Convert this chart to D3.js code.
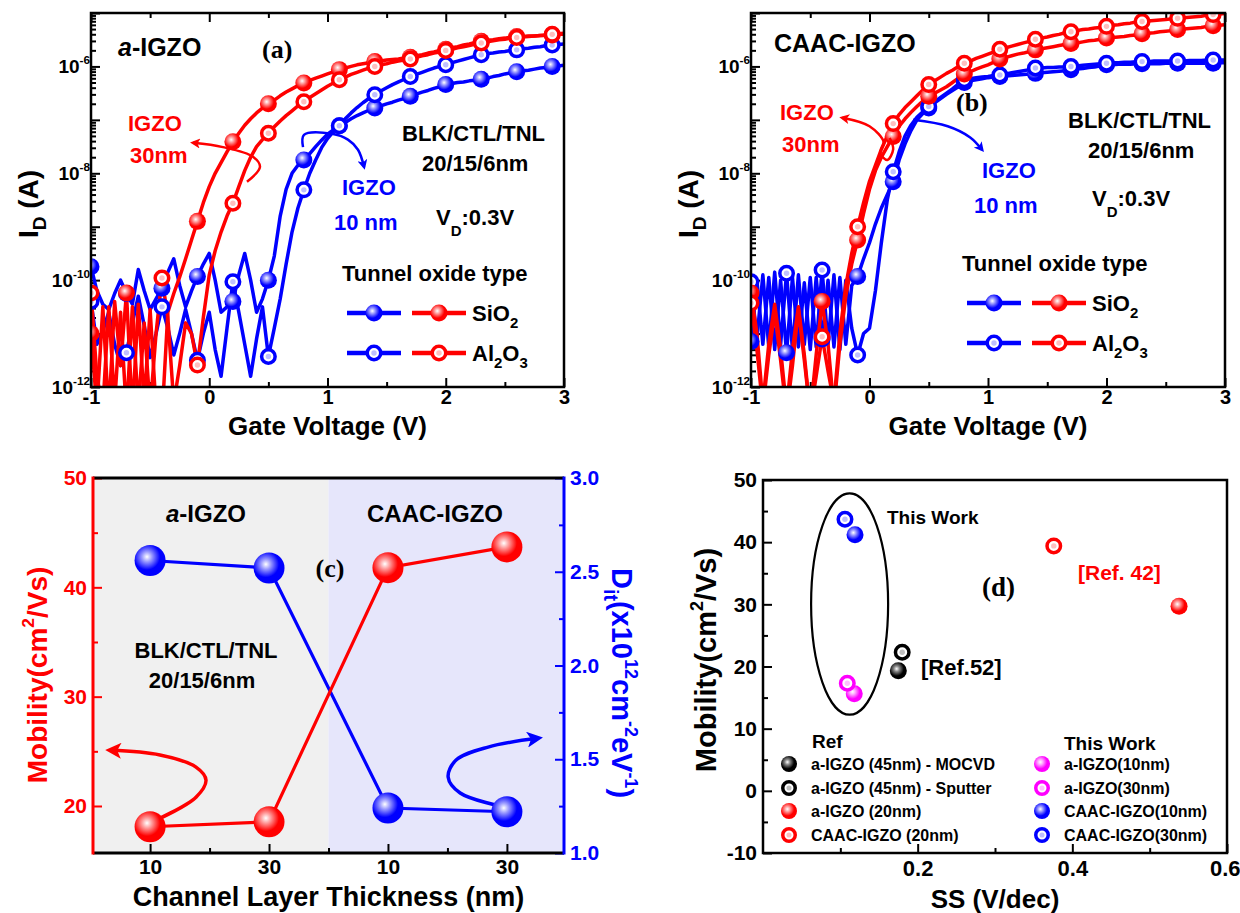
<!DOCTYPE html>
<html>
<head>
<meta charset="utf-8">
<title>IGZO charge-trap transistors: transfer curves, mobility and D_it</title>
<script src="https://cdn.jsdelivr.net/npm/d3@7"></script>
<style>
  html, body { margin: 0; padding: 0; background: #fff; }
  svg { display: block; }
</style>
</head>
<body>
<svg id="fig" width="1240" height="913" viewBox="0 0 1240 913"></svg>
<script>
// ------------------------------------------------------------------
// Data
// ------------------------------------------------------------------
// Gate sweep used by every transfer curve (V), symbols every 0.3 V
const gateVoltage = d3.range(81).map(i => Math.round((-1 + i * 0.05) * 100) / 100);

// log10 of drain current (A) at V_D = 0.3 V
// (a) amorphous IGZO
const aIGZO10_SiO2 = [
  -9.75,-10.2,-10.45,-10.55,-10.25,-10.0,
  -10.25,-10.45,-9.8,-10.2,-10.55,-10.35,
  -10.15,-9.85,-9.6,-10.1,-10.5,-10.2,
  -9.93,-9.7,-9.5,-10.0,-10.6,-10.5,
  -10.4,-9.9,-9.5,-10.0,-10.6,-10.35,
  -10.0,-9.55,-8.8,-8.3,-8.0,-7.85,
  -7.75,-7.63,-7.5,-7.38,-7.27,-7.19,
  -7.11,-7.05,-6.98,-6.92,-6.87,-6.82,
  -6.78,-6.74,-6.70,-6.67,-6.63,-6.60,
  -6.56,-6.52,-6.48,-6.45,-6.41,-6.38,
  -6.34,-6.32,-6.30,-6.29,-6.27,-6.26,
  -6.24,-6.22,-6.19,-6.17,-6.14,-6.12,
  -6.10,-6.08,-6.07,-6.05,-6.03,-6.02,
  -6.00,-5.99,-5.98];
const aIGZO10_Al2O3 = [
  -10.4,-11.2,-10.95,-10.6,-11.2,-11.6,
  -11.36,-10.8,-10.3,-10.85,-11.45,-11.0,
  -10.5,-10.9,-11.4,-11.0,-10.55,-11.0,
  -11.5,-11.0,-10.6,-11.3,-11.8,-10.9,
  -10.03,-10.6,-11.2,-11.8,-11.1,-10.5,
  -11.43,-10.9,-10.35,-9.7,-9.1,-8.65,
  -8.31,-8.0,-7.75,-7.52,-7.35,-7.22,
  -7.11,-6.98,-6.87,-6.77,-6.68,-6.60,
  -6.53,-6.46,-6.40,-6.34,-6.29,-6.24,
  -6.19,-6.15,-6.11,-6.07,-6.03,-6.00,
  -5.97,-5.93,-5.90,-5.87,-5.84,-5.81,
  -5.78,-5.76,-5.75,-5.73,-5.72,-5.70,
  -5.69,-5.67,-5.66,-5.64,-5.63,-5.61,
  -5.60,-5.59,-5.58];
const aIGZO30_SiO2 = [
  -11.0,-12.4,-10.5,-12.5,-10.4,-11.6,
  -10.24,-12.5,-10.45,-12.3,-10.55,-12.4,
  -12.6,-10.6,-10.25,-9.94,-9.6,-9.25,
  -8.9,-8.55,-8.25,-8.0,-7.8,-7.6,
  -7.41,-7.25,-7.1,-6.98,-6.87,-6.78,
  -6.70,-6.63,-6.55,-6.48,-6.42,-6.36,
  -6.31,-6.26,-6.22,-6.18,-6.14,-6.10,
  -6.06,-6.03,-6.00,-5.97,-5.95,-5.93,
  -5.91,-5.90,-5.88,-5.87,-5.86,-5.84,
  -5.83,-5.80,-5.78,-5.75,-5.73,-5.70,
  -5.68,-5.65,-5.63,-5.60,-5.58,-5.55,
  -5.53,-5.51,-5.50,-5.48,-5.47,-5.45,
  -5.44,-5.44,-5.43,-5.43,-5.42,-5.42,
  -5.41,-5.40,-5.40];
const aIGZO30_Al2O3 = [
  -10.24,-11.8,-12.4,-10.5,-12.3,-10.6,
  -12.5,-10.5,-12.4,-10.8,-12.4,-11.0,
  -9.96,-10.7,-12.3,-11.6,-10.8,-11.0,
  -11.59,-10.7,-9.9,-9.45,-9.1,-8.8,
  -8.56,-8.25,-7.95,-7.7,-7.5,-7.37,
  -7.25,-7.13,-7.02,-6.92,-6.83,-6.74,
  -6.66,-6.58,-6.51,-6.44,-6.37,-6.31,
  -6.25,-6.20,-6.15,-6.11,-6.07,-6.03,
  -6.00,-5.97,-5.95,-5.92,-5.90,-5.88,
  -5.86,-5.83,-5.80,-5.78,-5.75,-5.73,
  -5.70,-5.68,-5.65,-5.63,-5.61,-5.58,
  -5.56,-5.54,-5.52,-5.50,-5.49,-5.47,
  -5.46,-5.45,-5.44,-5.43,-5.42,-5.41,
  -5.40,-5.39,-5.38];

// (b) CAAC-IGZO
const caac10_SiO2 = [
  -11.15,-10.0,-11.2,-9.95,-11.3,-10.0,
  -11.36,-9.95,-11.25,-10.05,-11.3,-9.95,
  -11.1,-10.0,-11.25,-9.95,-11.2,-10.1,
  -9.93,-9.6,-9.3,-8.95,-8.65,-8.4,
  -8.16,-7.75,-7.45,-7.2,-7.0,-6.88,
  -6.78,-6.68,-6.60,-6.52,-6.45,-6.38,
  -6.30,-6.27,-6.25,-6.23,-6.21,-6.20,
  -6.19,-6.18,-6.17,-6.16,-6.15,-6.14,
  -6.13,-6.12,-6.11,-6.10,-6.09,-6.08,
  -6.06,-6.05,-6.04,-6.02,-6.01,-5.99,
  -5.97,-5.97,-5.96,-5.96,-5.96,-5.95,
  -5.95,-5.95,-5.95,-5.95,-5.94,-5.94,
  -5.94,-5.94,-5.94,-5.94,-5.94,-5.94,
  -5.94,-5.93,-5.93];
const caac10_Al2O3 = [
  -10.03,-11.1,-9.9,-11.25,-9.85,-11.2,
  -9.87,-11.3,-9.9,-11.2,-9.95,-11.25,
  -9.81,-11.2,-9.9,-11.3,-10.0,-10.9,
  -11.4,-11.0,-10.9,-10.2,-9.3,-8.5,
  -7.97,-7.6,-7.3,-7.1,-6.95,-6.85,
  -6.75,-6.66,-6.58,-6.50,-6.42,-6.33,
  -6.25,-6.23,-6.21,-6.20,-6.19,-6.17,
  -6.16,-6.14,-6.12,-6.10,-6.08,-6.06,
  -6.03,-6.03,-6.02,-6.02,-6.01,-6.01,
  -6.00,-5.99,-5.98,-5.97,-5.96,-5.95,
  -5.94,-5.93,-5.93,-5.92,-5.92,-5.91,
  -5.91,-5.91,-5.90,-5.90,-5.90,-5.90,
  -5.90,-5.90,-5.89,-5.89,-5.89,-5.88,
  -5.88,-5.88,-5.88];
const caac30_SiO2 = [
  -10.24,-11.0,-12.3,-11.2,-10.45,-11.3,
  -12.4,-11.3,-10.5,-11.4,-12.5,-11.4,
  -10.40,-11.2,-12.4,-11.2,-10.3,-9.7,
  -9.25,-8.75,-8.3,-7.95,-7.7,-7.5,
  -7.31,-7.12,-6.98,-6.86,-6.75,-6.65,
  -6.56,-6.50,-6.44,-6.38,-6.30,-6.22,
  -6.14,-6.10,-6.05,-6.01,-5.97,-5.92,
  -5.86,-5.83,-5.80,-5.77,-5.75,-5.72,
  -5.69,-5.67,-5.65,-5.63,-5.61,-5.59,
  -5.57,-5.56,-5.54,-5.52,-5.51,-5.49,
  -5.47,-5.46,-5.45,-5.44,-5.42,-5.41,
  -5.39,-5.38,-5.37,-5.35,-5.34,-5.33,
  -5.31,-5.30,-5.29,-5.28,-5.27,-5.25,
  -5.24,-5.23,-5.22];
const caac30_Al2O3 = [
  -10.43,-11.3,-12.4,-11.4,-10.6,-11.5,
  -12.5,-11.6,-10.55,-11.5,-12.5,-11.8,
  -11.06,-11.7,-12.3,-11.0,-10.1,-9.5,
  -9.0,-8.55,-8.15,-7.85,-7.55,-7.3,
  -7.07,-6.90,-6.77,-6.66,-6.55,-6.44,
  -6.34,-6.27,-6.20,-6.13,-6.07,-6.00,
  -5.94,-5.90,-5.85,-5.81,-5.77,-5.73,
  -5.68,-5.65,-5.62,-5.59,-5.56,-5.53,
  -5.49,-5.47,-5.45,-5.42,-5.40,-5.37,
  -5.35,-5.33,-5.31,-5.30,-5.28,-5.27,
  -5.25,-5.23,-5.22,-5.20,-5.19,-5.17,
  -5.16,-5.15,-5.14,-5.13,-5.12,-5.11,
  -5.10,-5.09,-5.08,-5.07,-5.06,-5.04,
  -5.03,-5.02,-5.01];

const gateTicks = [-1, 0, 1, 2, 3];
const gateMinorTicks = [-0.5, 0.5, 1.5, 2.5];
const decadeLabels = [-12, -10, -8, -6];

// (c) mobility and interface trap density per channel layer
const channelLayers = ["a-IGZO 10 nm", "a-IGZO 30 nm", "CAAC-IGZO 10 nm", "CAAC-IGZO 30 nm"];
const thicknessLabels = ["10", "30", "10", "30"];
const mobilityByLayer = [18.1, 18.55, 41.8, 43.7];   // cm^2/Vs
const ditByLayer = [2.56, 2.52, 1.24, 1.22];         // x10^12 cm^-2 eV^-1
const mobilityTicksC = [20, 30, 40, 50];
const ditTicks = [1.0, 1.5, 2.0, 2.5, 3.0];

// (d) benchmark: SS vs mobility
const benchNames = ["a-IGZO (45nm) - MOCVD", "a-IGZO (45nm) - Sputter", "a-IGZO (20nm)", "CAAC-IGZO (20nm)",
                    "a-IGZO(10nm)", "a-IGZO(30nm)", "CAAC-IGZO(10nm)", "CAAC-IGZO(30nm)"];
const benchSS = [0.175, 0.180, 0.538, 0.376, 0.118, 0.109, 0.119, 0.106];
const benchMobility = [19.3, 22.3, 29.7, 39.4, 15.6, 17.3, 41.2, 43.7];
const ssTicks = [0.2, 0.4, 0.6];
const ssMinorTicks = [0.1, 0.3, 0.5];
const mobilityTicksD = [-10, 0, 10, 20, 30, 40, 50];

// ------------------------------------------------------------------
// Drawing helpers
// ------------------------------------------------------------------
const FONT = "'Liberation Sans', Arial, Helvetica, sans-serif";
const SERIF = "'Liberation Serif', 'Times New Roman', serif";
const RED = "#ff0000", BLUE = "#0000ff", MAGENTA = "#ff00ff", BLACK = "#000000";

const svg = d3.select("#fig");
const defs = svg.append("defs");

function ballGradient(id, color, light) {
  const g = defs.append("radialGradient").attr("id", id)
    .attr("cx", "40%").attr("cy", "38%").attr("r", "62%");
  g.append("stop").attr("offset", "0%").attr("stop-color", "#ffffff");
  g.append("stop").attr("offset", "26%").attr("stop-color", light);
  g.append("stop").attr("offset", "68%").attr("stop-color", color);
  g.append("stop").attr("offset", "100%").attr("stop-color", color);
}
ballGradient("ball-red", RED, "#ff9c9c");
ballGradient("ball-blue", BLUE, "#9a9aff");
ballGradient("ball-black", BLACK, "#8a8a8a");
ballGradient("ball-magenta", MAGENTA, "#ffa8ff");
const gradOf = { [RED]: "ball-red", [BLUE]: "ball-blue", [BLACK]: "ball-black", [MAGENTA]: "ball-magenta" };

function arrowMarker(id, color, len, wid) {
  defs.append("marker").attr("id", id).attr("viewBox", "0 0 10 10")
    .attr("refX", 7).attr("refY", 5).attr("markerUnits", "userSpaceOnUse")
    .attr("markerWidth", len).attr("markerHeight", wid).attr("orient", "auto")
    .append("path").attr("d", "M0,0 L10,5 L0,10 L2.5,5 Z").attr("fill", color);
}
arrowMarker("arr-red-s", RED, 12, 10);
arrowMarker("arr-blue-s", BLUE, 12, 10);
arrowMarker("arr-red-l", RED, 22, 16);
arrowMarker("arr-blue-l", BLUE, 22, 16);

function symbol(g, cx, cy, r, color, filled) {
  if (filled) {
    g.append("circle").attr("cx", cx).attr("cy", cy).attr("r", r)
      .attr("fill", `url(#${gradOf[color]})`);
  } else {
    g.append("circle").attr("cx", cx).attr("cy", cy).attr("r", r - 1.75)
      .attr("fill", "#ffffff").attr("stroke", color).attr("stroke-width", 3.5);
    g.append("circle").attr("cx", cx).attr("cy", cy).attr("r", r * 0.32)
      .attr("fill", color).attr("opacity", 0.25);
  }
}

// text with sub/superscript and italic runs
function rich(g, x, y, parts, o = {}) {
  const fs = o.size || 20;
  const t = g.append("text").attr("x", x).attr("y", y)
    .attr("font-family", o.family || FONT).attr("font-weight", o.weight || "bold")
    .attr("font-size", fs).attr("fill", o.fill || BLACK)
    .attr("text-anchor", o.anchor || "start").style("white-space", "pre");
  if (o.rotate) t.attr("transform", `rotate(${o.rotate},${x},${y})`);
  let cur = 0;
  parts.forEach(p => {
    const [str, kind = "", extra] = Array.isArray(p) ? p : [p];
    let off = 0, scale = 1;
    if (kind === "sup") { off = -(extra ?? 0.42) * fs; scale = 0.62; }
    if (kind === "sub") { off = (extra ?? 0.25) * fs; scale = 0.68; }
    const s = t.append("tspan").attr("dy", off - cur).text(str);
    if (scale !== 1) s.attr("font-size", fs * scale);
    if (kind === "it") s.attr("font-style", "italic");
    cur = off;
  });
  return t;
}

function styleAxis(sel, color, size) {
  sel.select(".domain").remove();
  sel.selectAll(".tick line").attr("stroke", color).attr("stroke-width", 2);
  sel.selectAll(".tick text").attr("fill", color).attr("font-size", size)
    .attr("font-weight", "bold").attr("font-family", FONT);
  return sel;
}

// ------------------------------------------------------------------
// (a), (b) transfer characteristics
// ------------------------------------------------------------------
function transferPanel(P) {
  const g = svg.append("g");
  const x = d3.scaleLinear([-1, 3], [P.left, P.right]);
  const y = d3.scaleLog([1e-12, 1e-5], [P.bottom, P.top]);

  defs.append("clipPath").attr("id", P.id + "-clip").append("rect")
    .attr("x", P.left).attr("y", P.top)
    .attr("width", P.right - P.left).attr("height", P.bottom - P.top);

  // ticks (inward)
  const decades = d3.range(-12, -4).map(e => Math.pow(10, e));
  const minors = [];
  d3.range(-12, -5).forEach(e => { for (let k = 2; k < 10; k++) minors.push(k * Math.pow(10, e)); });
  styleAxis(g.append("g").attr("transform", `translate(${P.left},0)`)
    .call(d3.axisLeft(y).tickValues(decades).tickSize(-9).tickFormat("")), BLACK, 18);
  styleAxis(g.append("g").attr("transform", `translate(${P.left},0)`)
    .call(d3.axisLeft(y).tickValues(minors).tickSize(-5).tickFormat("")), BLACK, 18);
  styleAxis(g.append("g").attr("transform", `translate(0,${P.bottom})`)
    .call(d3.axisBottom(x).tickValues(gateTicks).tickSize(-9).tickPadding(3).tickFormat(d => String(d))), BLACK, 20);
  styleAxis(g.append("g").attr("transform", `translate(0,${P.bottom})`)
    .call(d3.axisBottom(x).tickValues(gateMinorTicks).tickSize(-5).tickFormat("")), BLACK, 20);
  styleAxis(g.append("g").attr("transform", `translate(0,${P.top})`)
    .call(d3.axisTop(x).tickValues(gateTicks).tickSize(-9).tickFormat("")), BLACK, 20);
  styleAxis(g.append("g").attr("transform", `translate(0,${P.top})`)
    .call(d3.axisTop(x).tickValues(gateMinorTicks).tickSize(-5).tickFormat("")), BLACK, 20);

  decadeLabels.forEach(e => {
    rich(g, P.left - 1, y(Math.pow(10, e)) + 7, ["10", [String(e), "sup", 0.5]], { size: 19, anchor: "end" });
  });

  // curves
  const cg = g.append("g").attr("clip-path", `url(#${P.id}-clip)`);
  const line = d3.line().x((d, i) => x(gateVoltage[i])).y(d => y(Math.pow(10, d)));
  P.curves.forEach(c => {
    cg.append("path").attr("d", line(c.values)).attr("fill", "none")
      .attr("stroke", c.color).attr("stroke-width", 3.5).attr("stroke-linejoin", "round");
  });
  P.curves.forEach(c => {
    c.values.forEach((v, i) => {
      if (i % 6 === 0) symbol(cg, x(gateVoltage[i]), y(Math.pow(10, v)), 8.5, c.color, c.filled);
    });
  });

  // curved arrows tying each thickness to its label
  const aline = d3.line().curve(d3.curveCatmullRom.alpha(0.5))
    .x(d => x(d[0])).y(d => y(Math.pow(10, d[1])));
  P.arrows.forEach(a => {
    g.append("path").attr("d", aline(a.pts)).attr("fill", "none")
      .attr("stroke", a.color).attr("stroke-width", 2.5)
      .attr("marker-end", `url(#${a.color === RED ? "arr-red-s" : "arr-blue-s"})`);
  });

  // frame
  g.append("rect").attr("x", P.left).attr("y", P.top)
    .attr("width", P.right - P.left).attr("height", P.bottom - P.top)
    .attr("fill", "none").attr("stroke", BLACK).attr("stroke-width", 2.5);

  // axis titles
  rich(g, (P.left + P.right) / 2, P.bottom + 48, ["Gate Voltage (V)"], { size: 26, anchor: "middle" });
  rich(g, P.left - 53, (P.top + P.bottom) / 2 + 4, ["I", ["D", "sub", 0.3], " (A)"], { size: 28, anchor: "middle", rotate: -90 });

  // annotations
  const T = P.text;
  rich(g, T.title[0], T.title[1], T.titleParts, { size: 25 });
  rich(g, T.tag[0], T.tag[1], [T.tagText], { size: 26, family: SERIF });
  rich(g, T.red[0], T.red[1], ["IGZO"], { size: 22, fill: RED });
  rich(g, T.red[0] + 2, T.red[1] + 32, ["30nm"], { size: 22, fill: RED });
  rich(g, T.blue[0], T.blue[1], ["IGZO"], { size: 22, fill: BLUE });
  rich(g, T.blue[0] - 8, T.blue[1] + 35, ["10 nm"], { size: 22, fill: BLUE });
  rich(g, T.stack[0], T.stack[1], ["BLK/CTL/TNL"], { size: 22 });
  rich(g, T.stack[0] + 20, T.stack[1] + 30, ["20/15/6nm"], { size: 22 });
  rich(g, T.vd[0], T.vd[1], ["V", ["D", "sub", 0.5], ":0.3V"], { size: 22 });

  // legend
  const L = P.legend;
  rich(g, L.x, L.y, ["Tunnel oxide type"], { size: 22 });
  [[true, ["SiO", ["2", "sub", 0.32]]], [false, ["Al", ["2", "sub", 0.32], "O", ["3", "sub", 0.32]]]]
    .forEach(([filled, label], k) => {
      const yy = L.y + 32 + k * 40;
      [[BLUE, 5], [RED, 70]].forEach(([col, dx]) => {
        g.append("line").attr("x1", L.x + dx).attr("x2", L.x + dx + 54)
          .attr("y1", yy).attr("y2", yy).attr("stroke", col).attr("stroke-width", 4.5);
        symbol(g, L.x + dx + 27, yy, 8.5, col, filled);
      });
      rich(g, L.x + 130, yy + 8, label, { size: 22 });
    });
}

transferPanel({
  id: "pa", left: 91, right: 564, top: 13, bottom: 387,
  curves: [
    { values: aIGZO10_SiO2, color: BLUE, filled: true },
    { values: aIGZO10_Al2O3, color: BLUE, filled: false },
    { values: aIGZO30_SiO2, color: RED, filled: true },
    { values: aIGZO30_Al2O3, color: RED, filled: false }
  ],
  arrows: [
    { color: RED, pts: [[0.319, -8.16], [0.429, -7.88], [0.370, -7.69], [0.116, -7.51], [-0.137, -7.43]] },
    { color: BLUE, pts: [[0.793, -7.51], [0.801, -7.28], [1.038, -7.26], [1.173, -7.37], [1.258, -7.56], [1.309, -7.88]] }
  ],
  text: {
    title: [118, 56], titleParts: [["a", "it"], "-IGZO"],
    tag: [262, 58], tagText: "(a)",
    red: [128, 131], blue: [342, 195], stack: [402, 141], vd: [436, 225]
  },
  legend: { x: 342, y: 281 }
});

transferPanel({
  id: "pb", left: 751, right: 1225, top: 13, bottom: 387,
  curves: [
    { values: caac10_SiO2, color: BLUE, filled: true },
    { values: caac10_Al2O3, color: BLUE, filled: false },
    { values: caac30_SiO2, color: RED, filled: true },
    { values: caac30_Al2O3, color: RED, filled: false }
  ],
  arrows: [
    { color: RED, pts: [[0.17, -7.34], [0.2, -7.55], [0.15, -7.75], [0.09, -7.62], [0.12, -7.42], [0.0, -7.12], [-0.23, -6.96]] },
    { color: BLUE, pts: [[0.368, -7.0], [0.66, -7.12], [0.85, -7.33], [0.95, -7.56]] }
  ],
  text: {
    title: [774, 52], titleParts: ["CAAC-IGZO"],
    tag: [956, 111], tagText: "(b)",
    red: [780, 120], blue: [982, 178], stack: [1068, 128], vd: [1092, 206]
  },
  legend: { x: 962, y: 271 }
});

// ------------------------------------------------------------------
// (c) mobility and D_it vs channel layer
// ------------------------------------------------------------------
(function layerPanel() {
  const L = 93, R = 564, T = 478, B = 853;
  const g = svg.append("g");
  const x = d3.scaleLinear([-0.48, 3.48], [L, R]);
  const yMu = d3.scaleLinear([15.7, 50], [B, T]);
  const yDit = d3.scaleLinear([1, 3], [B, T]);

  g.append("rect").attr("x", L).attr("y", T).attr("width", x(1.5) - L).attr("height", B - T).attr("fill", "#f0f0f0");
  g.append("rect").attr("x", x(1.5)).attr("y", T).attr("width", R - x(1.5)).attr("height", B - T).attr("fill", "#e6e6fb");

  styleAxis(g.append("g").attr("transform", `translate(${L},0)`)
    .call(d3.axisLeft(yMu).tickValues(mobilityTicksC).tickSize(-9).tickPadding(6).tickFormat(d => String(d))), RED, 21);
  styleAxis(g.append("g").attr("transform", `translate(${L},0)`)
    .call(d3.axisLeft(yMu).tickValues([25, 35, 45]).tickSize(-5).tickFormat("")), RED, 21);
  styleAxis(g.append("g").attr("transform", `translate(${R},0)`)
    .call(d3.axisRight(yDit).tickValues(ditTicks).tickSize(-9).tickPadding(6).tickFormat(d3.format(".1f"))), BLUE, 21);
  styleAxis(g.append("g").attr("transform", `translate(${R},0)`)
    .call(d3.axisRight(yDit).tickValues([1.25, 1.75, 2.25, 2.75]).tickSize(-5).tickFormat("")), BLUE, 21);
  styleAxis(g.append("g").attr("transform", `translate(0,${B})`)
    .call(d3.axisBottom(x).tickValues([0, 1, 2, 3]).tickSize(-9).tickPadding(6).tickFormat(i => thicknessLabels[i])), BLACK, 21);
  styleAxis(g.append("g").attr("transform", `translate(0,${B})`)
    .call(d3.axisBottom(x).tickValues([0.5, 1.5, 2.5]).tickSize(-5).tickFormat("")), BLACK, 21);

  const idx = channelLayers.map((_, i) => i);
  const lineMu = d3.line().x(i => x(i)).y(i => yMu(mobilityByLayer[i]));
  const lineDit = d3.line().x(i => x(i)).y(i => yDit(ditByLayer[i]));
  g.append("path").attr("d", lineDit(idx)).attr("fill", "none").attr("stroke", BLUE).attr("stroke-width", 3.2);
  g.append("path").attr("d", lineMu(idx)).attr("fill", "none").attr("stroke", RED).attr("stroke-width", 3.2);

  // arrows pointing to the axis each series belongs to
  const redArrow = [[0.016, 18.53], [0.386, 20.81], [0.47, 22.37], [0.386, 23.56], [0.083, 24.66], [-0.337, 25.11]];
  const blueArrow = [[2.977, 1.245], [2.607, 1.32], [2.506, 1.405], [2.573, 1.496], [2.842, 1.565], [3.263, 1.613]];
  g.append("path").attr("d", d3.line().curve(d3.curveCatmullRom).x(d => x(d[0])).y(d => yMu(d[1]))(redArrow))
    .attr("fill", "none").attr("stroke", RED).attr("stroke-width", 3.5).attr("marker-end", "url(#arr-red-l)");
  g.append("path").attr("d", d3.line().curve(d3.curveCatmullRom).x(d => x(d[0])).y(d => yDit(d[1]))(blueArrow))
    .attr("fill", "none").attr("stroke", BLUE).attr("stroke-width", 3.5).attr("marker-end", "url(#arr-blue-l)");

  idx.forEach(i => {
    symbol(g, x(i), yDit(ditByLayer[i]), 15.5, BLUE, true);
    symbol(g, x(i), yMu(mobilityByLayer[i]), 15.5, RED, true);
  });

  // frame: coloured value axes, black category axes
  g.append("line").attr("x1", L).attr("x2", R).attr("y1", T).attr("y2", T).attr("stroke", BLACK).attr("stroke-width", 3);
  g.append("line").attr("x1", L).attr("x2", R).attr("y1", B).attr("y2", B).attr("stroke", BLACK).attr("stroke-width", 3);
  g.append("line").attr("x1", L).attr("x2", L).attr("y1", T - 1.5).attr("y2", B + 1.5).attr("stroke", RED).attr("stroke-width", 3);
  g.append("line").attr("x1", R).attr("x2", R).attr("y1", T - 1.5).attr("y2", B + 1.5).attr("stroke", BLUE).attr("stroke-width", 3);

  rich(g, 206, 522, [["a", "it"], "-IGZO"], { size: 24, anchor: "middle" });
  rich(g, 435, 522, ["CAAC-IGZO"], { size: 24, anchor: "middle" });
  rich(g, 330, 577, ["(c)"], { size: 26, family: SERIF, anchor: "middle" });
  rich(g, 206, 658, ["BLK/CTL/TNL"], { size: 22, anchor: "middle" });
  rich(g, 202, 688, ["20/15/6nm"], { size: 22, anchor: "middle" });

  rich(g, (L + R) / 2, 906, ["Channel Layer Thickness (nm)"], { size: 27, anchor: "middle" });
  rich(g, 47, 675, ["Mobility(cm", ["2", "sup", 0.45], "/Vs)"], { size: 28, anchor: "middle", fill: RED, rotate: -90 });
  rich(g, 612, 683, ["D", ["it", "sub", 0.28], "(x10", ["12", "sup", 0.45], "cm", ["-2", "sup", 0.45], "eV", ["-1", "sup", 0.45], ")"],
    { size: 29, anchor: "middle", fill: BLUE, rotate: 90 });
})();

// ------------------------------------------------------------------
// (d) mobility vs subthreshold swing benchmark
// ------------------------------------------------------------------
(function benchmarkPanel() {
  const L = 763, R = 1227, T = 480, B = 853;
  const g = svg.append("g");
  const x = d3.scaleLinear([0, 0.6], [L, R]);
  const y = d3.scaleLinear([-10, 50], [B, T]);
  const look = [
    { c: BLACK, f: true }, { c: BLACK, f: false }, { c: RED, f: true }, { c: RED, f: false },
    { c: MAGENTA, f: true }, { c: MAGENTA, f: false }, { c: BLUE, f: true }, { c: BLUE, f: false }
  ];

  styleAxis(g.append("g").attr("transform", `translate(${L},0)`)
    .call(d3.axisLeft(y).tickValues(mobilityTicksD).tickSize(-9).tickPadding(6).tickFormat(d => String(d))), BLACK, 21);
  styleAxis(g.append("g").attr("transform", `translate(${L},0)`)
    .call(d3.axisLeft(y).tickValues([-5, 5, 15, 25, 35, 45]).tickSize(-5).tickFormat("")), BLACK, 21);
  const xAx = styleAxis(g.append("g").attr("transform", `translate(0,${B})`)
    .call(d3.axisBottom(x).tickValues(ssTicks).tickSize(-9).tickPadding(7).tickFormat(d3.format(".1f"))), BLACK, 22);
  // keep the last label inside the figure edge
  xAx.selectAll(".tick text").filter(d => d === 0.6).attr("text-anchor", "end").attr("x", 13);
  styleAxis(g.append("g").attr("transform", `translate(0,${B})`)
    .call(d3.axisBottom(x).tickValues(ssMinorTicks).tickSize(-5).tickFormat("")), BLACK, 22);

  // grouping ellipse around this work's devices
  const ec = [0.112, 30.05], er = [0.0498, 17.8];
  g.append("ellipse").attr("cx", x(ec[0])).attr("cy", y(ec[1]))
    .attr("rx", x(ec[0] + er[0]) - x(ec[0])).attr("ry", y(ec[1]) - y(ec[1] + er[1]))
    .attr("fill", "none").attr("stroke", BLACK).attr("stroke-width", 2.2);

  benchSS.forEach((s, i) => symbol(g, x(s), y(benchMobility[i]), 8.5, look[i].c, look[i].f));

  g.append("rect").attr("x", L).attr("y", T).attr("width", R - L).attr("height", B - T)
    .attr("fill", "none").attr("stroke", BLACK).attr("stroke-width", 2.5);

  rich(g, 887, 524, ["This Work"], { size: 19 });
  rich(g, 1078, 580, ["[Ref. 42]"], { size: 21, fill: RED });
  rich(g, 921, 675, ["[Ref.52]"], { size: 22 });
  rich(g, 982, 596, ["(d)"], { size: 27, family: SERIF });

  // legend
  rich(g, 812, 748, ["Ref"], { size: 19 });
  rich(g, 1064, 750, ["This Work"], { size: 19 });
  const rows = [764, 788, 811, 835];
  benchNames.forEach((name, i) => {
    const col = i < 4 ? 0 : 1, row = i % 4;
    const sx = col === 0 ? 789 : 1042;
    symbol(g, sx, rows[row], 8, look[i].c, look[i].f);
    rich(g, sx + 22, rows[row] + 6, [name], { size: 16 });
  });

  rich(g, (L + R) / 2, 908, ["SS (V/dec)"], { size: 26, anchor: "middle" });
  rich(g, 716, 660, ["Mobility(cm", ["2", "sup", 0.45], "/Vs)"], { size: 29, anchor: "middle", rotate: -90 });
})();
</script>
</body>
</html>
